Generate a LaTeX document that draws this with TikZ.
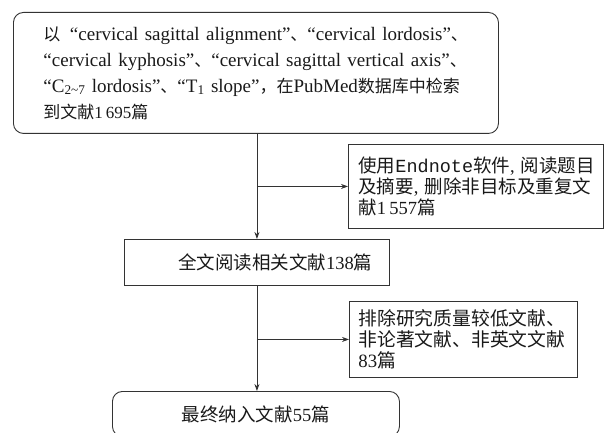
\documentclass[tikz,border=0pt]{standalone}
\usepackage{fontspec}
\setmainfont{Liberation Serif}
\newfontfamily\cjk{Noto Sans CJK SC}
\newfontfamily\monofnt{Liberation Mono}
\newfontfamily\tightfnt{Liberation Serif}[WordSpace=0.55]
\usetikzlibrary{arrows.meta}
\usetikzlibrary{positioning}

\newcommand{\zh}[1]{{\cjk #1}}
\newcommand{\zhs}[1]{{\cjk\fontsize{17}{26}\selectfont #1}}

\begin{document}
\begin{tikzpicture}[x=1pt,y=-1pt,
    box/.style={draw=black!80,line width=0.9pt,anchor=north west,inner ysep=0pt,text=black!90},
    roundbox/.style={box,rounded corners=10pt},
    flow/.style={draw=black!80,line width=0.8pt,->,>={Stealth[length=7pt,width=5pt]}}]
  \useasboundingbox (0,0) rectangle (606,433);

  \node [roundbox,minimum width=485pt,minimum height=121pt,inner xsep=30pt,
    text width=425pt,align=left,
    font=\tightfnt\fontsize{19}{26}\selectfont] (search) at (13,12)
    {\mbox{\zhs{以}\enspace“cervical sagittal alignment”\zhs{、}“cervical lordosis”\zhs{、}}\\
     \mbox{“cervical kyphosis”\zhs{、}“cervical sagittal vertical axis”\zhs{、}}\\
     \mbox{“C\textsubscript{2\textasciitilde7} lordosis”\zhs{、}“T\textsubscript{1} slope”\zhs{，在}PubMed\zhs{数据库中检索}}\\
     \mbox{\zhs{到文献}{\fontsize{17}{26}\selectfont 1\,695}\zhs{篇}}};

  \node [box,minimum width=255pt,minimum height=84pt,inner xsep=10pt,
    text width=235pt,align=left,font=\fontsize{18.5}{21}\selectfont] (dedup) at (348,144)
    {\zh{使用}{\monofnt Endnote}\zh{软件},~\zh{阅读题目}\\
     \zh{及摘要},~\zh{删除非目标及重复文}\\
     \zh{献}1\,557\zh{篇}};

  \node [box,minimum width=265pt,minimum height=46pt,inner xsep=17pt,
    text width=231pt,align=right,font=\fontsize{18.5}{21}\selectfont] (fulltext) at (124,239)
    {\zh{全文阅读相关文献}138\zh{篇}};

  \node [box,minimum width=228pt,minimum height=76pt,inner xsep=9pt,
    text width=210pt,align=left,font=\fontsize{18.8}{21}\selectfont] (exclude) at (349,301)
    {\zh{排除研究质量较低文献、}\\
     \zh{非论著文献、非英文文献}\\
     83\zh{篇}};

  \node [roundbox,minimum width=287pt,minimum height=45pt,
    font=\fontsize{18.5}{21}\selectfont] (final) at (112,391)
    {\zh{最终纳入文献}55\zh{篇}};

  \coordinate (split1) at (fulltext.north |- dedup.west);
  \coordinate (split2) at (fulltext.south |- exclude.west);

  \draw [flow] (search.south -| fulltext.north) -- (fulltext.north);
  \draw [flow] (split1) -- (dedup.west);
  \draw [flow] (fulltext.south) -- (fulltext.south |- final.north);
  \draw [flow] (split2) -- (exclude.west);

\end{tikzpicture}
\end{document}
